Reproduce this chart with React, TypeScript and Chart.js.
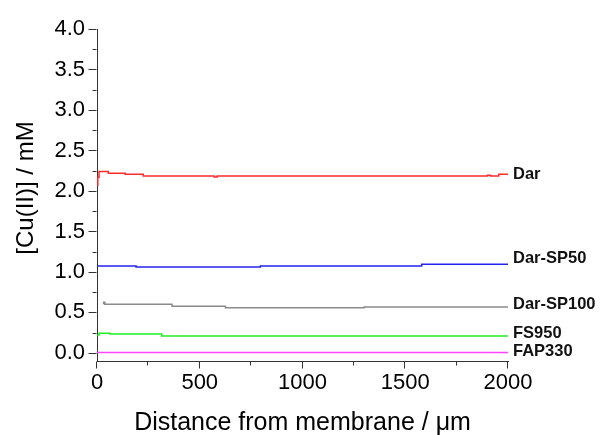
import React, { useEffect, useRef } from "react";
import { Chart, registerables } from "chart.js";

Chart.register(...registerables);

// ---- data ----
const seriesNames = ["Dar", "Dar-SP50", "Dar-SP100", "FS950", "FAP330"];
const seriesColors = ["#ff2a2a", "#2424f0", "#8a8a8a", "#22ee22", "#ff44ff"];

const darX = [0, 4, 10, 55, 137, 225, 570, 585, 1900, 1915, 1955, 2000];
const darY = [2.07, 2.17, 2.24, 2.22, 2.205, 2.185, 2.172, 2.185, 2.195, 2.185, 2.205, 2.205];

const sp50X = [0, 190, 795, 1580, 2000];
const sp50Y = [1.074, 1.062, 1.074, 1.095, 1.095];

const sp100X = [28, 33, 38, 365, 625, 1300, 2000];
const sp100Y = [0.61, 0.625, 0.6, 0.577, 0.558, 0.566, 0.566];

const fs950X = [0, 10, 63, 315, 2000];
const fs950Y = [0.222, 0.243, 0.232, 0.208, 0.208];

const fap330X = [0, 2000];
const fap330Y = [0.006, 0.006];

const labelValues = [2.2, 1.17, 0.6, 0.245, 0.012];

const xMajorTicks = [0, 500, 1000, 1500, 2000];
const xMinorTicks = [250, 750, 1250, 1750];
const yMajorTicks = [0, 0.5, 1, 1.5, 2, 2.5, 3, 3.5, 4];
const yMinorTicks = [0.25, 0.75, 1.25, 1.75, 2.25, 2.75, 3.25, 3.75];

const xTitle = "Distance from membrane / \u03bcm";
const yTitle = "[Cu(II)] / mM";

const FONT = "'Liberation Sans', Arial, sans-serif";
const AXIS_COLOR = "#333333";
const TEXT_COLOR = "#000000";

function pts(xs: number[], ys: number[]) {
  return xs.map((x, i) => ({ x, y: ys[i] }));
}

const ticksPlugin = {
  id: "originTicks",
  afterDraw(chart: any) {
    const { ctx, chartArea, scales } = chart;
    const xs = scales.x;
    const ys = scales.y;
    ctx.save();
    ctx.strokeStyle = AXIS_COLOR;
    ctx.lineWidth = 1;
    ctx.beginPath();
    const b = Math.round(chartArea.bottom) + 0.5;
    const l = Math.round(chartArea.left) - 0.5;
    xMajorTicks.forEach((v) => {
      const p = Math.round(xs.getPixelForValue(v)) - 0.5;
      ctx.moveTo(p, b);
      ctx.lineTo(p, b + 7);
    });
    xMinorTicks.forEach((v) => {
      const p = Math.round(xs.getPixelForValue(v)) - 0.5;
      ctx.moveTo(p, b);
      ctx.lineTo(p, b + 4);
    });
    yMajorTicks.forEach((v) => {
      const p = Math.round(ys.getPixelForValue(v)) + 0.5;
      ctx.moveTo(l, p);
      ctx.lineTo(l - 8, p);
    });
    yMinorTicks.forEach((v) => {
      const p = Math.round(ys.getPixelForValue(v)) + 0.5;
      ctx.moveTo(l, p);
      ctx.lineTo(l - 4, p);
    });
    ctx.stroke();

    // series labels at right
    ctx.fillStyle = "#111111";
    ctx.font = `bold 16.5px ${FONT}`;
    ctx.textAlign = "left";
    ctx.textBaseline = "middle";
    seriesNames.forEach((name, i) => {
      ctx.fillText(name, chartArea.right + 5, ys.getPixelForValue(labelValues[i]));
    });

    // y axis title
    ctx.save();
    ctx.translate(26, 188);
    ctx.rotate(-Math.PI / 2);
    ctx.font = `24px ${FONT}`;
    ctx.fillStyle = TEXT_COLOR;
    ctx.textAlign = "center";
    ctx.textBaseline = "middle";
    ctx.fillText(yTitle, 0, 0);
    ctx.restore();

    ctx.restore();
  },
};

export default function App() {
  const canvasRef = useRef<HTMLCanvasElement | null>(null);

  useEffect(() => {
    if (!canvasRef.current) return;
    const seriesX = [darX, sp50X, sp100X, fs950X, fap330X];
    const seriesY = [darY, sp50Y, sp100Y, fs950Y, fap330Y];
    const chart = new Chart(canvasRef.current, {
      type: "line",
      data: {
        datasets: seriesNames.map((name, i) => ({
          label: name,
          data: pts(seriesX[i], seriesY[i]),
          borderColor: seriesColors[i],
          borderWidth: 1.5,
          pointRadius: 0,
          stepped: "before",
          fill: false,
        })),
      },
      options: {
        responsive: false,
        animation: false,
        layout: { padding: { left: 0, right: 92, top: 29, bottom: 0 } },
        plugins: {
          legend: { display: false },
          tooltip: { enabled: false },
        },
        scales: {
          x: {
            type: "linear",
            min: 0,
            max: 2000,
            grid: { display: false, drawTicks: false, tickLength: 0 },
            border: { display: true, color: AXIS_COLOR, width: 1 },
            afterBuildTicks: (s: any) => {
              s.ticks = xMajorTicks.map((v) => ({ value: v }));
            },
            afterFit: (s: any) => {
              s.height = 74;
            },
            ticks: {
              color: TEXT_COLOR,
              font: { family: FONT, size: 22, lineHeight: 1 },
              padding: 11,
              maxRotation: 0,
              callback: (v: any) => String(v),
            },
            title: {
              display: true,
              text: xTitle,
              color: TEXT_COLOR,
              font: { family: FONT, size: 25, lineHeight: 1 },
              padding: { top: 0, bottom: -1 },
            },
          },
          y: {
            type: "linear",
            min: -0.1,
            max: 4.0,
            grid: { display: false, drawTicks: false, tickLength: 0 },
            border: { display: true, color: AXIS_COLOR, width: 1 },
            afterBuildTicks: (s: any) => {
              s.ticks = yMajorTicks.map((v) => ({ value: v }));
            },
            afterFit: (s: any) => {
              s.width = 97;
            },
            ticks: {
              color: TEXT_COLOR,
              font: { family: FONT, size: 22, lineHeight: 1 },
              padding: 12,
              callback: (v: any) => Number(v).toFixed(1),
            },
            title: { display: false },
          },
        },
      },
      plugins: [ticksPlugin],
    });
    return () => chart.destroy();
  }, []);

  return (
    <div
      style={{
        position: "fixed",
        left: 0,
        top: 0,
        width: 600,
        height: 435,
        background: "#ffffff",
      }}
    >
      <canvas ref={canvasRef} width={600} height={435} style={{ display: "block" }} />
    </div>
  );
}
